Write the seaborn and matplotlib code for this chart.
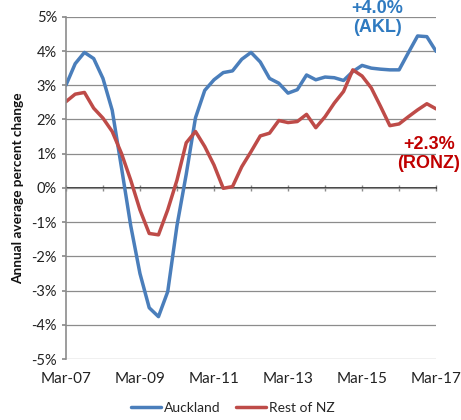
"""
Annual average percent change: Auckland vs Rest of NZ
"""

import numpy as np
import pandas as pd
import matplotlib
matplotlib.use("Agg")
import matplotlib.pyplot as plt
import seaborn as sns

# quarterly, Mar-07 .. Mar-17
quarters = pd.period_range("2007Q1", "2017Q1", freq="Q")

auckland = [3.00, 3.63, 3.96, 3.78, 3.20, 2.27, 0.60, -1.10, -2.50, -3.50,
            -3.76, -3.03, -1.10, 0.40, 2.05, 2.85, 3.16, 3.37, 3.42, 3.76,
            3.96, 3.68, 3.20, 3.06, 2.77, 2.87, 3.30, 3.16, 3.24, 3.22,
            3.14, 3.40, 3.58, 3.50, 3.47, 3.45, 3.45, 3.95, 4.44, 4.42,
            3.99]
rest_of_nz = [2.52, 2.74, 2.79, 2.33, 2.04, 1.65, 1.01, 0.23, -0.64, -1.33,
              -1.37, -0.64, 0.23, 1.32, 1.65, 1.21, 0.67, -0.01, 0.04, 0.62,
              1.06, 1.52, 1.60, 1.97, 1.91, 1.94, 2.15, 1.76, 2.08, 2.48,
              2.82, 3.45, 3.27, 2.92, 2.38, 1.82, 1.87, 2.08, 2.28, 2.46,
              2.31]

series_names = ["Auckland", "Rest of NZ"]
series_colors = ["#4a7ebb", "#be4b48"]
y_ticks = list(range(-5, 6))

labels = [f"{['Mar', 'Jun', 'Sep', 'Dec'][p.quarter - 1]}-{p.year % 100:02d}" for p in quarters]
idx = np.arange(len(quarters))

df = pd.DataFrame({
    "q": np.concatenate([idx, idx]),
    "value": auckland + rest_of_nz,
    "series": [series_names[0]] * len(idx) + [series_names[1]] * len(idx),
})

sns.set_theme(style="white")
plt.rcParams["font.family"] = ["Lato", "DejaVu Sans"]

fig = plt.figure(figsize=(4.61, 4.2), dpi=100)
ax = fig.add_axes([0.143, 0.145, 0.803, 0.815])

sns.lineplot(data=df, x="q", y="value", hue="series", palette=series_colors,
             linewidth=2.5, ax=ax, legend=True)

grid_c = "#8c8c8c"
ax.set_xlim(0, len(idx) - 1)
ax.set_ylim(-5, 5)
ax.set_yticks(y_ticks)
ax.set_yticklabels([f"{v}%" for v in y_ticks], fontsize=10.5, color="#222222")
ax.yaxis.grid(True, color=grid_c, linewidth=0.9)
ax.set_axisbelow(True)

# x labels every 2 years at the bottom
ax.set_xticks(idx[::8])
ax.set_xticklabels([labels[i] for i in idx[::8]], fontsize=11, color="#222222")
ax.tick_params(axis="x", length=0, pad=9)
ax.tick_params(axis="y", length=3, color=grid_c, direction="out", left=True)

for side in ["top", "right", "bottom"]:
    ax.spines[side].set_visible(False)
ax.spines["left"].set_color(grid_c)
ax.spines["left"].set_linewidth(1.2)

# axis line at 0% with yearly tick marks
sec = ax.secondary_xaxis(0.5)
sec.set_xticks(idx[::4])
sec.set_xticklabels([])
sec.tick_params(axis="x", length=4, direction="inout", color=grid_c, width=1)
sec.spines["bottom"].set_color(grid_c)
sec.spines["bottom"].set_linewidth(1.2)

ax.set_xlabel("")
ax.set_ylabel("Annual average percent change", fontsize=9.8, fontweight="bold",
              color="#111111", labelpad=5)

ax.text(33.65, 4.96, "+4.0%\n(AKL)", color="#2f7ac0", fontsize=13, fontweight="bold",
        ha="center", va="center", family=["Liberation Sans"], linespacing=1.2,
        clip_on=False)
ax.text(39.2, 0.99, "+2.3%\n(RONZ)", color="#c00000", fontsize=13, fontweight="bold",
        ha="center", va="center", family=["Liberation Sans"], linespacing=1.2,
        clip_on=False)

handles, hlabels = ax.get_legend_handles_labels()
ax.get_legend().remove()
fig.legend(handles, hlabels, loc="lower center", bbox_to_anchor=(0.505, -0.015),
           ncol=2, frameon=False, fontsize=10, handlelength=2.2,
           handletextpad=0.2, columnspacing=1.1)

fig.savefig("out.png", dpi=100)
